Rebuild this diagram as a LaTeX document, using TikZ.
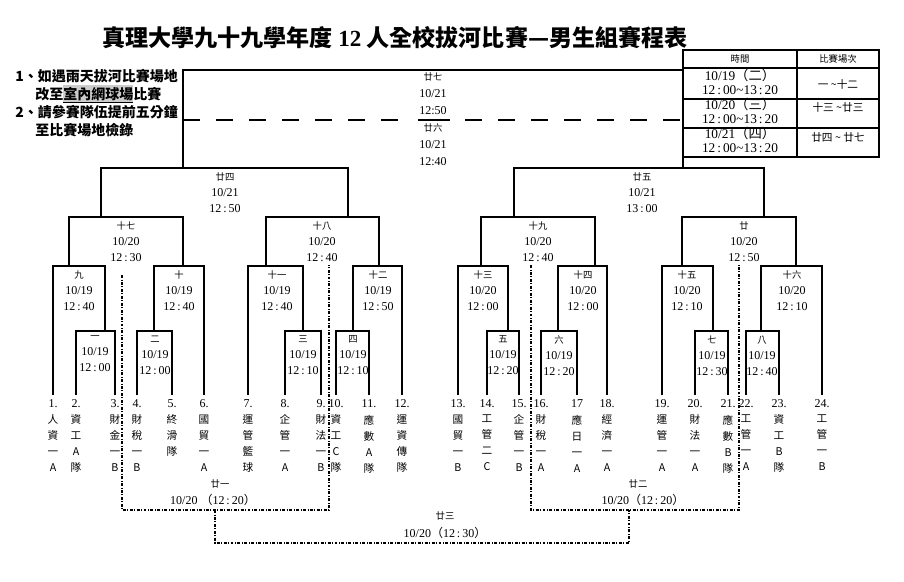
\documentclass[tikz,border=0pt]{standalone}
\usepackage{fontspec}
\setmainfont{Liberation Serif}
\newfontfamily\cjk{Noto Sans CJK TC}
\newcommand\zh[1]{{\cjk #1}}
\newcommand\zs[1]{{\cjk\fontsize{7}{12}\selectfont #1}}
\newcommand\hm[2]{#1\hspace{1.5pt}:\hspace{1.5pt}#2}
\definecolor{notegray}{gray}{0.8}
\tikzset{
  bout/.style={line width=0.8pt},
  dd/.style={line width=0.8pt, dash pattern=on 2.2pt off 1.2pt on 0.6pt off 1.2pt},
  lbl/.style={align=center, anchor=north, inner sep=0pt, font=\fontsize{9}{12}\selectfont},
  team/.style={align=center, anchor=north, inner sep=0pt, font=\cjk\fontsize{8}{12}\selectfont},
  small/.style={inner sep=0pt, font=\cjk\fontsize{7}{9}\selectfont},
  txt/.style={inner sep=0pt, font=\fontsize{9}{11}\selectfont},
  note/.style={anchor=west, inner sep=0pt, font=\cjk\bfseries\fontsize{10.5}{12}\selectfont}
}
\begin{document}
\begin{tikzpicture}[x=0.75pt, y=-0.75pt]
\useasboundingbox (0,0) rectangle (904,582);

% title and notes
\node[inner sep=0pt, font=\cjk\bfseries\fontsize{17.3}{20}\selectfont] (title) at (395,38)
  {真理大學九十九學年度 {\rmfamily 12} 人全校拔河比賽—男生組賽程表};
\fill[notegray] (63,85) rectangle (133,102);
\draw (63,102) -- (133,102);
\node[note] (note1) at (15,76) {1、如遇雨天拔河比賽場地};
\node[note] (note2) at (35,94) {改至室內網球場比賽};
\node[note] (note3) at (15,112) {2、請參賽隊伍提前五分鐘};
\node[note] (note4) at (35,130) {至比賽場地檢錄};

% schedule table
\draw[line width=1pt] (683,50) rectangle (879,157);
\foreach \y in {68,99,128} \draw[line width=1pt] (683,\y) -- (879,\y);
\draw[line width=1pt] (797,50) -- (797,157);
\node[small] (h1) at (740,59) {時間};
\node[small] (h2) at (838,59) {比賽場次};
\node[align=center, inner sep=0pt, font=\fontsize{10}{11}\selectfont] (d1) at (740,82)
  {10/19\zh{（二）}\\\hm{12}{00}\textasciitilde\hm{13}{20}};
\node[align=center, inner sep=0pt, font=\fontsize{10}{11}\selectfont] (d2) at (740,111)
  {10/20\zh{（三）}\\\hm{12}{00}\textasciitilde\hm{13}{20}};
\node[align=center, inner sep=0pt, font=\fontsize{10}{11}\selectfont] (d3) at (740,140)
  {10/21\zh{（四）}\\\hm{12}{00}\textasciitilde\hm{13}{20}};
\node[small, font=\cjk\fontsize{8}{9}\selectfont] (r1) at (838,84) {一 \textasciitilde 十二};
\node[small, font=\cjk\fontsize{8}{9}\selectfont] (r2) at (838,107) {十三 \textasciitilde 廿三};
\node[small, font=\cjk\fontsize{8}{9}\selectfont] (r3) at (838,137) {廿四 \textasciitilde{} 廿七};

% bracket: left x, right x, top y, foot of left leg, foot of right leg
\foreach \xl/\xr/\yt/\ya/\yb in {
  76/115/331/395/395, 137/172/331/395/395, 285/321/331/395/395, 336/369/331/395/395,
  487/519/331/395/395, 541/577/331/395/395, 695/728/331/395/395, 746/779/331/395/395,
  53/105/266/395/331, 154/204/266/331/395, 248/303/266/395/331, 353/402/266/331/395,
  458/508/266/395/331, 558/607/266/331/395, 662/713/266/395/331, 761/822/266/331/395,
  69/183/217/266/266, 266/379/217/266/266, 481/595/217/266/266, 682/796/217/266/266,
  101/348/168/217/217, 514/764/168/217/217, 183/683/70/168/168}
  \draw[bout] (\xl,\ya) |- (\xr,\yt) -- (\xr,\yb);

% final
\draw[bout, dash pattern=on 12.75pt off 12pt] (183,120) -- (405,120);
\draw[bout] (418,120) -- (450,120);
\draw[bout, dash pattern=on 12.75pt off 12pt] (465,120) -- (683,120);
\node[lbl, font=\fontsize{9}{12.75}\selectfont] (m27) at (433,72.5) {\zs{廿七}\\10/21\\12:50};
\node[lbl, font=\fontsize{9}{12.75}\selectfont] (m26) at (433,123.5) {\zs{廿六}\\10/21\\12:40};

% match labels
\foreach \i/\x/\y/\nm/\dt/\hh/\mm in {
  1/95/331/一/{10/19}/12/00, 2/155/331/二/{10/19}/12/00, 3/303/331/三/{10/19}/12/10,
  4/353/331/四/{10/19}/12/10, 5/503/331/五/{10/19}/12/20, 6/559/331/六/{10/19}/12/20,
  7/712/331/七/{10/19}/12/30, 8/762/331/八/{10/19}/12/40,
  9/79/266/九/{10/19}/12/40, 10/179/266/十/{10/19}/12/40, 11/277/266/十一/{10/19}/12/40,
  12/378/266/十二/{10/19}/12/50, 13/483/266/十三/{10/20}/12/00, 14/583/266/十四/{10/20}/12/00,
  15/687/266/十五/{10/20}/12/10, 16/792/266/十六/{10/20}/12/10,
  17/126/217/十七/{10/20}/12/30, 18/322/217/十八/{10/20}/12/40,
  19/538/217/十九/{10/20}/12/40, 20/744/217/廿/{10/20}/12/50,
  24/225/168/廿四/{10/21}/12/50, 25/642/168/廿五/{10/21}/13/00}
  \node[lbl] (m\i) at (\x,\y+4.5) {\zs{\nm}\\\dt\\\hm{\hh}{\mm}};

% teams
\foreach \n/\x/\lab/\nm in {
  1/53/1./人\\資\\一\\A, 2/76/2./資\\工\\A\\隊, 3/115/3./財\\金\\一\\B,
  4/137/4./財\\稅\\一\\B, 5/172/5./終\\滑\\隊, 6/204/6./國\\貿\\一\\A,
  7/248/7./運\\管\\籃\\球, 8/285/8./企\\管\\一\\A, 9/321/9./財\\法\\一\\B,
  10/336/10./資\\工\\C\\隊, 11/369/11./應\\數\\A\\隊, 12/402/12./運\\資\\傳\\隊,
  13/458/13./國\\貿\\一\\B, 14/487/14./工\\管\\二\\C, 15/519/15./企\\管\\一\\B,
  16/541/16./財\\稅\\一\\A, 17/577/17/應\\日\\一\\A, 18/607/18./經\\濟\\一\\A,
  19/662/19./運\\管\\一\\A, 20/695/20./財\\法\\一\\A, 21/728/21./應\\數\\B\\隊,
  22/746/22./工\\管\\一\\A, 23/779/23./資\\工\\B\\隊, 24/822/24./工\\管\\一\\B}
{
  \node[txt] (t\n) at (\x,404) {\lab};
  \node[team] (n\n) at (\x,414.6) {\nm};
}

% semifinal losers' side
\draw[dd] (122,275) |- (329,510) -- (329,265);
\draw[dd] (531,265) |- (739,510) -- (739,265);
\draw[dd] (215,510) |- (629,543) -- (629,510);
\node[small] (m21) at (220,484) {廿一};
\node[txt] (w21) at (213,500) {10/20 \zh{（}\hm{12}{20}\zh{）}};
\node[small] (m22) at (638,484) {廿二};
\node[txt] (w22) at (643,500) {10/20\zh{（}\hm{12}{20}\zh{）}};
\node[small] (m23) at (445,516) {廿三};
\node[txt] (w23) at (445,533) {10/20\zh{（}\hm{12}{30}\zh{）}};
\end{tikzpicture}
\end{document}
